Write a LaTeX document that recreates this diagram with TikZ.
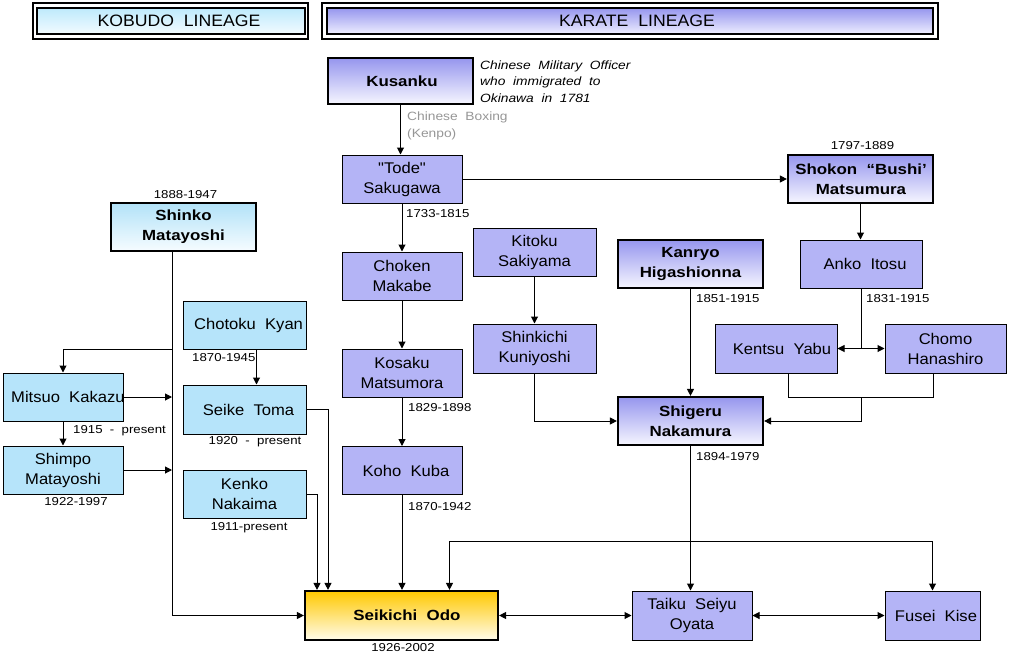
\documentclass[tikz,border=0pt]{standalone}
\usepackage{fontspec}
\setmainfont{Liberation Sans}[FakeStretch=1.15]
\newfontfamily\namefont{Liberation Sans}[FakeStretch=1.07]
\usetikzlibrary{arrows.meta}
\definecolor{lav}{RGB}{180,180,246}
\definecolor{cyanf}{RGB}{182,228,250}
\definecolor{btop}{RGB}{150,150,238}
\definecolor{bbot}{RGB}{246,246,255}
\definecolor{ctop}{RGB}{178,226,248}
\definecolor{cbot}{RGB}{246,252,255}
\definecolor{gtop}{RGB}{255,200,0}
\definecolor{gbot}{RGB}{255,252,235}
\definecolor{htop}{RGB}{150,150,238}
\definecolor{hbot}{RGB}{238,238,255}
\definecolor{kctop}{RGB}{190,234,252}
\definecolor{kcbot}{RGB}{242,251,255}
\definecolor{grayt}{RGB}{150,150,150}
\begin{document}
\begin{tikzpicture}[x=1pt,y=-1pt,
 box/.style={draw=black, line width=1pt, inner sep=0pt, minimum width=120pt, minimum height=48pt},
 kbox/.style={box, fill=lav},
 cbox/.style={box, fill=cyanf},
 bbox/.style={box, line width=2.2pt, top color=btop, bottom color=bbot},
 nm/.style={font=\namefont\fontsize{15.5}{20}\selectfont, align=center, inner sep=0pt},
 nm1/.style={nm, xshift=4pt},
 bnm/.style={align=center, inner sep=0pt, font=\fontsize{14.7}{20}\selectfont\bfseries},
 dt/.style={font=\fontsize{11.5}{14}\selectfont, inner sep=0pt},
 note/.style={font=\fontsize{12}{16.5}\selectfont\itshape, align=left, inner sep=0pt, anchor=north west},
 gnote/.style={font=\fontsize{12}{17}\selectfont, text=grayt, align=left, inner sep=0pt, anchor=north west},
 hdr/.style={draw=black, line width=2pt, inner sep=0pt},
 ht/.style={font=\namefont\fontsize{16.5}{18}\selectfont, inner sep=0pt},
 ln/.style={line width=1pt},
 arr/.style={ln, -{Triangle[length=7pt,width=7pt]}},
 darr/.style={ln, {Triangle[length=7pt,width=7pt]}-{Triangle[length=7pt,width=7pt]}},
]
\useasboundingbox (0,0) rectangle (1013,662);

% headers
\node[hdr, minimum width=275pt, minimum height=36pt] (kobout) at (170.5,21) {};
\node[hdr, minimum width=268pt, minimum height=26pt, top color=kctop, bottom color=kcbot] (kobin) at (171,21) {};
\node[ht] (kobt) at (179,21) {KOBUDO\ \ LINEAGE};
\node[hdr, minimum width=616pt, minimum height=36pt] (karout) at (630,21) {};
\node[hdr, minimum width=606pt, minimum height=26pt, top color=htop, bottom color=hbot] (karin) at (630,21) {};
\node[ht] (kart) at (637,21) {KARATE\ \ LINEAGE};

% karate boxes
\node[bbox, minimum width=145pt, minimum height=46pt] (kusanku) at (400.5,81) {};
\node[bnm] (kusanku-t) at (402,81) {Kusanku};
\node[kbox] (sakugawa) at (402,179) {};
\node[nm] (sakugawa-t) at (sakugawa) {"Tode"\\Sakugawa};
\node[bbox, minimum width=145pt] (matsumura) at (860.5,179) {};
\node[bnm] (matsumura-t) at (861,179) {Shokon\ \ “Bushi’\\Matsumura};
\node[kbox] (makabe) at (402,276) {};
\node[nm] (makabe-t) at (makabe) {Choken\\Makabe};
\node[kbox] (matsumora) at (402,373) {};
\node[nm] (matsumora-t) at (matsumora) {Kosaku\\Matsumora};
\node[kbox] (kuba) at (402,470.5) {};
\node[nm1] (kuba-t) at (kuba) {Koho\ \ Kuba};
\node[kbox, minimum width=123pt] (sakiyama) at (534.5,252) {};
\node[nm] (sakiyama-t) at (sakiyama) {Kitoku\\Sakiyama};
\node[kbox, minimum width=123pt, minimum height=49pt] (kuniyoshi) at (534.5,348.5) {};
\node[nm] (kuniyoshi-t) at (kuniyoshi) {Shinkichi\\Kuniyoshi};
\node[bbox, minimum width=145pt] (higashionna) at (690.5,264) {};
\node[bnm] (higashionna-t) at (higashionna) {Kanryo\\Higashionna};
\node[kbox, minimum width=122pt] (itosu) at (861,264) {};
\node[nm1] (itosu-t) at (861,264) {Anko\ \ Itosu};
\node[kbox, minimum width=122pt, minimum height=49pt] (yabu) at (776,348.5) {};
\node[nm1] (yabu-t) at (778,348.5) {Kentsu\ \ Yabu};
\node[kbox, minimum width=121pt, minimum height=49pt] (hanashiro) at (945.5,348.5) {};
\node[nm] (hanashiro-t) at (hanashiro) {Chomo\\Hanashiro};
\node[bbox, minimum width=145pt] (nakamura) at (690.5,421) {};
\node[bnm] (nakamura-t) at (nakamura) {Shigeru\\Nakamura};
\node[kbox, minimum height=49pt] (oyata) at (692,615.5) {};
\node[nm] (oyata-t) at (oyata) {Taiku\ \ Seiyu\\Oyata};
\node[kbox, minimum width=95pt, minimum height=49pt] (kise) at (932.5,615.5) {};
\node[nm1] (kise-t) at (932,615.5) {Fusei\ \ Kise};
\node[box, line width=2.2pt, top color=gtop, bottom color=gbot, minimum width=193pt, minimum height=49pt] (odo) at (401.5,615.5) {};
\node[bnm] (odo-t) at (407,615.5) {Seikichi\ \ Odo};

% kobudo boxes
\node[bbox, top color=ctop, bottom color=cbot, minimum width=145pt] (shinko) at (183.5,227) {};
\node[bnm] (shinko-t) at (shinko) {Shinko\\Matayoshi};
\node[cbox, minimum width=123pt] (kyan) at (244.5,325) {};
\node[nm, anchor=west] (kyan-t) at (194,325) {Chotoku\ \ Kyan};
\node[cbox, minimum width=123pt, minimum height=49pt] (toma) at (244.5,409.5) {};
\node[nm1] (toma-t) at (toma) {Seike\ \ Toma};
\node[cbox, minimum width=123pt] (nakaima) at (244.5,494) {};
\node[nm] (nakaima-t) at (nakaima) {Kenko\\Nakaima};
\node[cbox] (mitsuo) at (63,397) {};
\node[nm, anchor=west] (mitsuo-t) at (11,397) {Mitsuo\ \ Kakazu};
\node[cbox] (shimpo) at (63,470) {};
\node[nm] (shimpo-t) at (shimpo) {Shimpo\\Matayoshi};

% texts
\node[note] (kusnote) at (480,60.5) {Chinese\ \ Military\ \ Officer\\who\ \ immigrated\ \ to\\Okinawa\ \ in\ \ 1781};
\node[gnote] (boxing) at (407,111.5) {Chinese\ \ Boxing\\(Kenpo)};
\node[dt] (d1) at (862.5,146) {1797-1889};
\node[dt, anchor=west] (d2) at (406,214) {1733-1815};
\node[dt, anchor=west] (d3) at (696,299) {1851-1915};
\node[dt, anchor=west] (d4) at (866,299) {1831-1915};
\node[dt, anchor=west] (d5) at (696,457) {1894-1979};
\node[dt, anchor=west] (d6) at (408,408) {1829-1898};
\node[dt, anchor=west] (d7) at (408,507) {1870-1942};
\node[dt] (d8) at (185.5,195) {1888-1947};
\node[dt, anchor=west] (d9) at (192,358) {1870-1945};
\node[dt, anchor=west] (d10) at (73,431) {1915\ \ -\ \ present};
\node[dt] (d11) at (76,502) {1922-1997};
\node[dt] (d12) at (255,442) {1920\ \ -\ \ present};
\node[dt] (d13) at (249,528) {1911-present};
\node[dt] (d14) at (403,648) {1926-2002};

% karate connectors
\draw[arr] (kusanku.south) -- (kusanku.south |- sakugawa.north);
\draw[arr] (sakugawa.east) -- (matsumura.west);
\draw[arr] (sakugawa.south) -- (makabe.north);
\draw[arr] (makabe.south) -- (matsumora.north);
\draw[arr] (matsumora.south) -- (kuba.north);
\draw[arr] (kuba.south) -- (kuba.south |- odo.north);
\draw[arr] (sakiyama.south) -- (kuniyoshi.north);
\draw[arr] (kuniyoshi.south) |- (nakamura.west);
\draw[arr] (higashionna.south) -- (nakamura.north);
\draw[arr] (matsumura.south) -- (matsumura.south |- itosu.north);
\draw[ln] (itosu.south) -- (itosu.south |- yabu.east);
\draw[darr] (yabu.east) -- (hanashiro.west);
\draw[ln] ([xshift=12pt]yabu.south) -- ++(0,24) coordinate (ja) -| ([xshift=-12.5pt]hanashiro.south);
\draw[arr] (ja -| itosu.south) |- (nakamura.east);
\draw[arr] (nakamura.south) -- (nakamura.south |- oyata.north);
\draw[darr] (odo.east) -- (oyata.west);
\draw[darr] (oyata.east) -- (kise.west);
\draw[darr] ([xshift=48pt]odo.north) -- ++(0,-48) -| (kise.north);

% kobudo connectors
\draw[arr] ([xshift=-11.5pt]shinko.south) coordinate (sv) |- (odo.west);
\coordinate (br) at (sv |- kyan.south);
\draw[arr] (br) -| (mitsuo.north);
\draw[arr] (mitsuo.east) -- (mitsuo.east -| sv);
\draw[arr] (shimpo.east) -- (shimpo.east -| sv);
\draw[arr] (mitsuo.south) -- (shimpo.north);
\draw[arr] ([xshift=12pt]kyan.south) -- ([xshift=12pt]toma.north);
\draw[arr] (toma.east) -| ([xshift=-73.5pt]odo.north);
\draw[arr] (nakaima.east) -| ([xshift=-84.5pt]odo.north);
\end{tikzpicture}
\end{document}
